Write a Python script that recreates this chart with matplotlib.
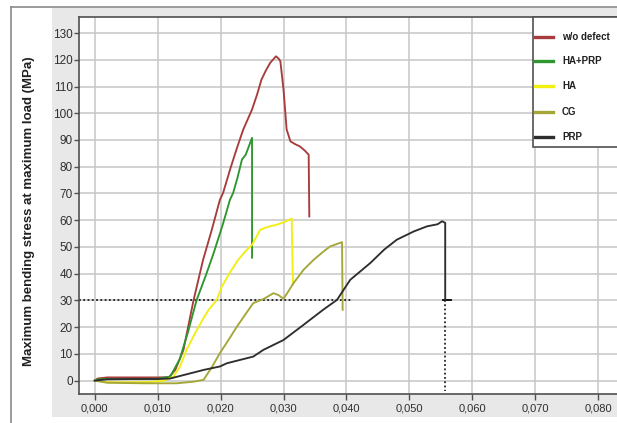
import matplotlib
matplotlib.use("Agg")
import matplotlib.pyplot as plt
from matplotlib.patches import Rectangle
from matplotlib.lines import Line2D

# ---- data ----
labels = ["w/o defect", "HA+PRP", "HA", "CG", "PRP"]
colors = ["#a83c3c", "#2e962e", "#f2ee10", "#a4a638", "#2e2e2e"]

x_wo = [0, 0.0005, 0.002, 0.006, 0.010, 0.0118, 0.0128, 0.0141, 0.0157, 0.0172, 0.0186,
        0.0199, 0.0204, 0.0215, 0.0226, 0.0236, 0.0250, 0.0258, 0.0265, 0.0272, 0.0279,
        0.0288, 0.0292, 0.0295, 0.0300, 0.0305, 0.0311, 0.0318, 0.0326, 0.0334, 0.0340, 0.0341]
y_wo = [0, 0.8, 1.2, 1.2, 1.2, 1.3, 4, 11.5, 30, 45, 56.4,
        67.7, 70.2, 78.9, 87, 93.9, 101.4, 107, 112.6, 116, 118.9,
        121.3, 120.5, 119.5, 108.9, 93.9, 89.5, 88.5, 87.6, 86, 84.5, 61.4]

x_haprp = [0, 0.0005, 0.002, 0.006, 0.010, 0.012, 0.0135, 0.0148, 0.0162, 0.0176, 0.0189,
           0.0203, 0.0215, 0.0220, 0.0227, 0.0234, 0.0240, 0.0250, 0.0250]
y_haprp = [0, 0.5, 0.6, 0.6, 0.7, 1.5, 8, 18, 30.2, 39, 47.7,
           58, 67.7, 70.2, 76, 82.7, 84.5, 90.8, 46]

x_ha = [0, 0.002, 0.006, 0.009, 0.011, 0.0125, 0.0135, 0.0146, 0.0160, 0.0172, 0.0181,
        0.0194, 0.0202, 0.0215, 0.0228, 0.0240, 0.0250, 0.0263, 0.0275, 0.0289, 0.0300,
        0.0313, 0.0315]
y_ha = [0, -0.6, -0.6, -0.5, 0, 1.5, 5, 11.5, 18, 23, 26.5,
        30.2, 35.2, 40.5, 45.2, 48.5, 50.8, 56.4, 57.5, 58.3, 59.2,
        60.6, 36]

x_cg = [0, 0.002, 0.008, 0.013, 0.0157, 0.0173, 0.0186, 0.0199, 0.0212, 0.0226, 0.0240,
        0.0252, 0.0268, 0.0284, 0.0292, 0.0300, 0.0308, 0.0316, 0.0332, 0.0348, 0.0362,
        0.0374, 0.0386, 0.0393, 0.0394]
y_cg = [0, -0.8, -1, -1, -0.4, 0.3, 5, 10.3, 15, 20.2, 25,
        29, 30.5, 32.7, 32, 30.6, 33.5, 36.5, 41.5, 45.2, 48,
        50.2, 51.2, 51.8, 26.5]

x_prp = [0, 0.002, 0.006, 0.010, 0.012, 0.0173, 0.0199, 0.0210, 0.0252, 0.0268, 0.0300,
         0.0332, 0.0363, 0.0385, 0.0406, 0.0438, 0.0460, 0.0480, 0.0507, 0.0528, 0.0545,
         0.0552, 0.0557, 0.0557]
y_prp = [0, 0.5, 0.6, 0.6, 0.8, 4, 5.3, 6.5, 9, 11.5, 15.2,
         20.9, 26.5, 30.2, 37.7, 44, 49, 52.7, 55.8, 57.7, 58.5,
         59.6, 59, 30.2]

ref_stress = 30
ref_h_end = 0.0409
ref_strain = 0.0557

xticks = [0.00, 0.01, 0.02, 0.03, 0.04, 0.05, 0.06, 0.07, 0.08]
xticklabels = ["0,000", "0,010", "0,020", "0,030", "0,040", "0,050", "0,060", "0,070", "0,080"]
yticks = list(range(0, 131, 10))
ylabel = "Maximum bending stress at maximum load (MPa)"

series = [(x_wo, y_wo), (x_haprp, y_haprp), (x_ha, y_ha), (x_cg, y_cg), (x_prp, y_prp)]

W, H = 617, 423
fig = plt.figure(figsize=(W / 100, H / 100), dpi=100)
fig.patch.set_facecolor("white")


def fx(px):
    return px / W


def fy(py):
    return 1 - py / H


# gray panel and outer frame
fig.add_artist(Rectangle((fx(52), fy(417)), 1 - fx(52), (417 - 8) / H,
                         transform=fig.transFigure, facecolor="#e8e8e8",
                         edgecolor="none", zorder=0))
fig.add_artist(Line2D([fx(11), fx(11)], [0, fy(7)], transform=fig.transFigure,
                      color="#8a8a8a", lw=1.2))
fig.add_artist(Line2D([fx(11), 1], [fy(7), fy(7)], transform=fig.transFigure,
                      color="#8a8a8a", lw=1.2))

ax = fig.add_axes([fx(79), fy(394), 1 - fx(79), (394 - 17) / H])
ax.set_facecolor("white")
ax.set_xlim(-0.0025, 0.0830)
ax.set_ylim(-5, 136)

ax.grid(True, color="#c6c6c6", lw=1.1, zorder=0)
ax.set_axisbelow(True)
for s in ["left", "bottom", "top"]:
    ax.spines[s].set_color("#505050")
    ax.spines[s].set_linewidth(1.2)
ax.spines["right"].set_visible(False)

ax.set_xticks(xticks)
ax.set_xticklabels(xticklabels, family=["Liberation Sans", "DejaVu Sans"], fontsize=8, color="#303030")
ax.set_yticks(yticks)
ax.set_yticklabels([str(v) for v in yticks], family=["Liberation Sans", "DejaVu Sans"], fontsize=8.5, color="#303030")
ax.tick_params(axis="x", direction="out", length=4, width=1, color="#505050", pad=3)
ax.tick_params(axis="y", direction="out", length=3.5, width=1, color="#505050", pad=1)

# reference lines
ax.plot([-0.0025, ref_h_end], [ref_stress, ref_stress], color="black", lw=1.1,
        linestyle=(0, (1.2, 1.6)), zorder=2)
ax.plot([ref_strain, ref_strain], [ref_stress, -4], color="black", lw=1.1,
        linestyle=(0, (1.2, 1.6)), zorder=2)
ax.plot([ref_strain - 0.0003, ref_strain + 0.0009], [ref_stress, ref_stress], color="black", lw=1.3, zorder=3)

for (xs, ys), c, lab in zip(series, colors, labels):
    ax.plot(xs, ys, color=c, lw=1.35, label=lab, zorder=3)

# legend box drawn manually (white panel with left/bottom border, cut at figure edge)
fig.add_artist(Rectangle((fx(533), fy(147)), 1 - fx(533) + 0.01, (147 - 17) / H,
                         transform=fig.transFigure, facecolor="white",
                         edgecolor="#505050", lw=1.2, zorder=6))
entry_y = [37, 61, 86, 112, 137]
for c, lab, py in zip(colors, labels, entry_y):
    fig.add_artist(Line2D([fx(535), fx(553)], [fy(py), fy(py)], transform=fig.transFigure,
                          color=c, lw=2.4, zorder=7))
    fig.text(fx(562), fy(py), lab, ha="left", va="center", zorder=7,
             family=["Liberation Sans", "DejaVu Sans"], weight="bold", fontsize=7, color="#202020")

fig.text(fx(29), fy(211), ylabel, rotation=90, ha="center", va="center",
         family=["Liberation Sans", "DejaVu Sans"], weight="bold", fontsize=9.5, color="#202020")

fig.savefig("out.png", dpi=100)
